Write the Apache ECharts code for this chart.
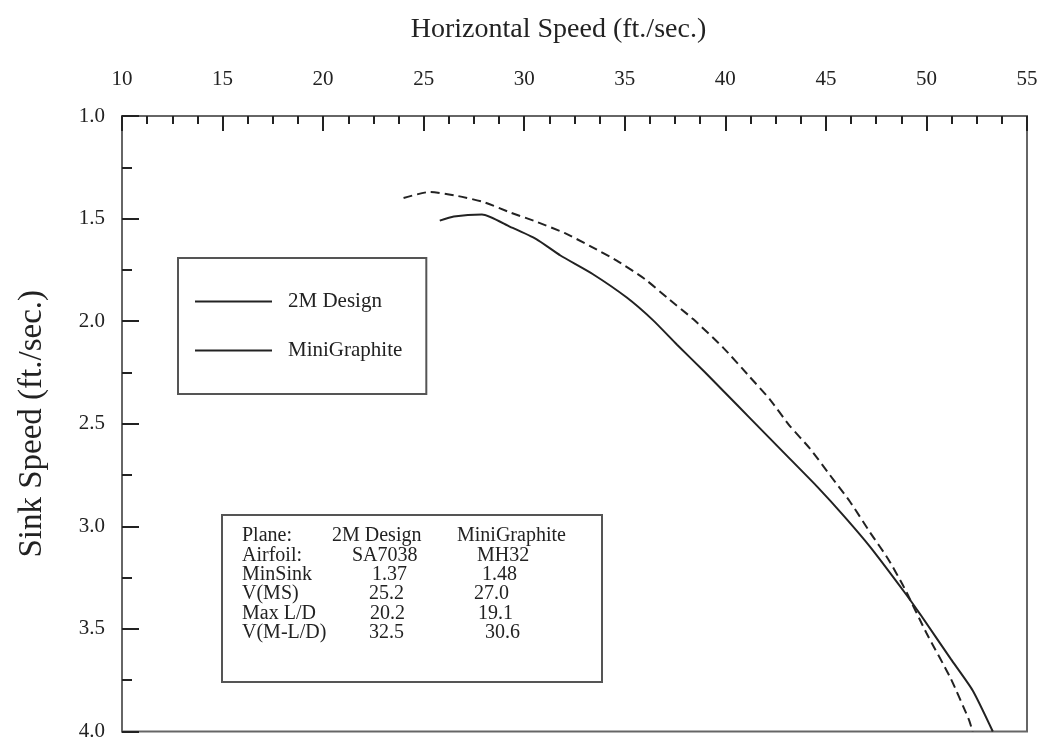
<!DOCTYPE html>
<html>
<head>
<meta charset="utf-8">
<script src="https://cdn.jsdelivr.net/npm/echarts@6/dist/echarts.min.js"></script>
<style>html,body{margin:0;padding:0;background:#fff;}#chart{width:1042px;height:742px;}</style>
</head>
<body>
<div id="chart"></div>
<script>
// Series data (horizontal speed, sink speed)
const speed2M = [24.0, 25.3, 26.7, 28.0, 29.3, 30.6, 32.0, 33.3, 34.6, 36.0, 37.1, 38.4, 39.9, 41.2, 42.2, 43.2, 44.2, 45.2, 46.2, 47.2, 48.1, 48.9, 50.0, 51.2, 52.1, 52.3];
const sink2M  = [1.40, 1.37, 1.39, 1.42, 1.47, 1.515, 1.57, 1.635, 1.705, 1.795, 1.885, 1.99, 2.13, 2.27, 2.38, 2.51, 2.62, 2.75, 2.88, 3.03, 3.16, 3.30, 3.52, 3.74, 3.94, 4.00];
const speedMini = [25.8, 26.5, 27.9, 29.3, 30.6, 31.8, 33.4, 35.1, 36.4, 37.6, 39.0, 40.0, 41.2, 42.2, 43.2, 44.6, 45.9, 47.2, 48.9, 49.7, 51.2, 52.3, 53.3];
const sinkMini  = [1.51, 1.49, 1.48, 1.54, 1.60, 1.68, 1.77, 1.885, 1.995, 2.115, 2.25, 2.35, 2.47, 2.57, 2.67, 2.81, 2.95, 3.10, 3.32, 3.43, 3.645, 3.80, 4.00];
const seriesNames = ['2M Design', 'MiniGraphite'];

// Summary table
const tableLabels = ['Plane:', 'Airfoil:', 'MinSink', 'V(MS)', 'Max L/D', 'V(M-L/D)'];
const table2M   = ['2M Design', 'SA7038', '1.37', '25.2', '20.2', '32.5'];
const tableMini = ['MiniGraphite', 'MH32', '1.48', '27.0', '19.1', '30.6'];

const FONT = '"Liberation Serif", "Times New Roman", serif';
const zip = (a, b) => a.map((v, i) => [v, b[i]]);

const chart = echarts.init(document.getElementById('chart'), null, {renderer: 'canvas'});

// table graphics
const col2x = [332, 352, 372, 369, 370, 369];
const col3x = [457, 477, 482, 474, 478, 485];
const rowY0 = 536, rowDy = 19.4;
const tableTexts = [];
tableLabels.forEach((t, i) => {
  const y = rowY0 + i * rowDy;
  [[242, t], [col2x[i], table2M[i]], [col3x[i], tableMini[i]]].forEach(([x, s]) => {
    tableTexts.push({type: 'text', x: x, y: y, z: 11,
      style: {text: s, font: '20px ' + FONT, fill: '#222', textVerticalAlign: 'middle', verticalAlign: 'middle'}});
  });
});

chart.setOption({
  backgroundColor: '#fff',
  animation: false,
  grid: {left: 122, right: 15, top: 116, bottom: 9, show: true, borderColor: '#666', borderWidth: 2, backgroundColor: 'transparent'},
  xAxis: {
    type: 'value', position: 'top', min: 10, max: 55, interval: 5,
    name: 'Horizontal Speed (ft./sec.)', nameLocation: 'middle', nameGap: 72,
    nameTextStyle: {fontFamily: FONT, fontSize: 28, color: '#222', padding: [0, 32, 0, 0]},
    axisLine: {show: true, lineStyle: {color: '#666', width: 2}},
    axisTick: {show: true, inside: true, length: 15, lineStyle: {color: '#222', width: 2}},
    minorTick: {show: true, splitNumber: 4, length: 8, lineStyle: {color: '#222', width: 2}},
    splitLine: {show: false}, minorSplitLine: {show: false},
    axisLabel: {margin: 26, fontFamily: FONT, fontSize: 21, color: '#222'}
  },
  yAxis: {
    type: 'value', inverse: true, min: 1, max: 4, interval: 0.5,
    name: 'Sink Speed (ft./sec.)', nameLocation: 'middle', nameGap: 73,
    nameTextStyle: {fontFamily: FONT, fontSize: 33, color: '#222'},
    axisLine: {show: true, lineStyle: {color: '#666', width: 2}},
    axisTick: {show: true, inside: true, length: 17, lineStyle: {color: '#222', width: 2}},
    minorTick: {show: true, splitNumber: 2, length: 10, lineStyle: {color: '#222', width: 2}},
    splitLine: {show: false}, minorSplitLine: {show: false},
    axisLabel: {margin: 17, fontFamily: FONT, fontSize: 21, color: '#222', formatter: v => v.toFixed(1)}
  },
  legend: {
    orient: 'vertical', left: 178, top: 258,
    data: seriesNames,
    borderColor: '#555', borderWidth: 2,
    padding: [33, 24, 33, 17],
    itemWidth: 77, itemHeight: 14, itemGap: 28,
    icon: 'path://M0,6 L77,6 L77,8 L0,8 Z',
    itemStyle: {color: '#222'},
    textStyle: {fontFamily: FONT, fontSize: 21, color: '#222', padding: [0, 0, 0, 11]}
  },
  series: [
    {name: seriesNames[0], type: 'line', data: zip(speed2M, sink2M), showSymbol: false, symbol: 'none', smooth: 0.2,
     lineStyle: {color: '#222', width: 2, type: [9, 5]}, itemStyle: {color: '#222'}},
    {name: seriesNames[1], type: 'line', data: zip(speedMini, sinkMini), showSymbol: false, symbol: 'none', smooth: 0.2,
     lineStyle: {color: '#222', width: 2, type: 'solid'}, itemStyle: {color: '#222'}}
  ],
  graphic: [
    {type: 'rect', shape: {x: 222, y: 515, width: 380, height: 167}, style: {fill: '#fff', stroke: '#555', lineWidth: 2}, z: 10},
    ...tableTexts
  ]
});
</script>
</body>
</html>
